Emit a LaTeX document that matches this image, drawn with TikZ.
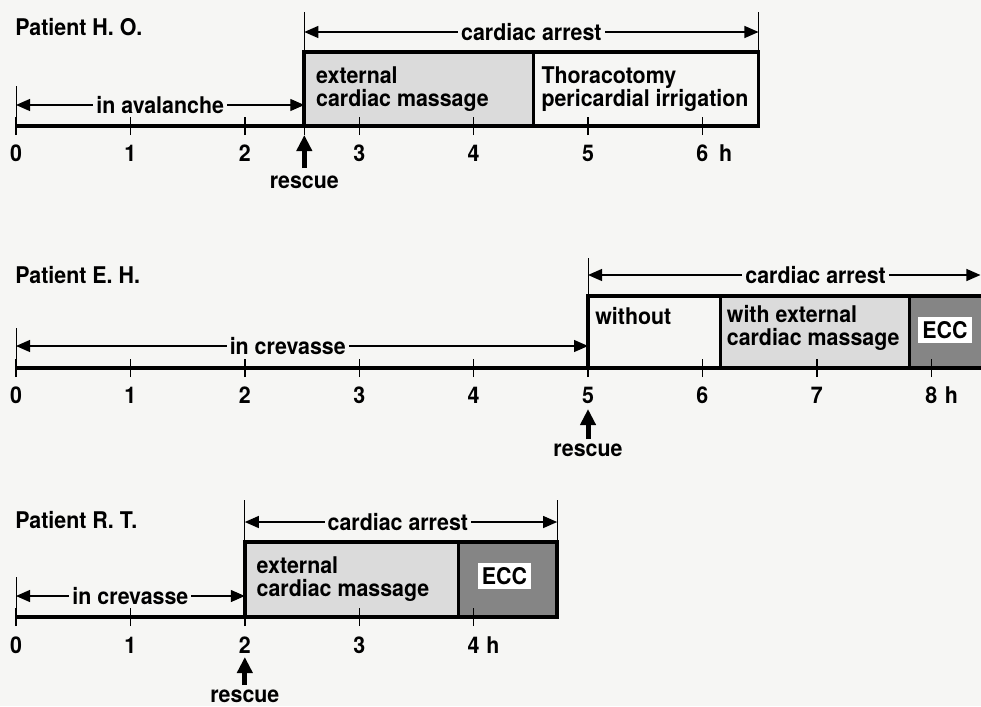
\documentclass[tikz,border=0pt]{standalone}
\usepackage{fontspec}
\setmainfont{TeX Gyre Heros}[FakeStretch=0.93]
\usetikzlibrary{arrows,arrows.meta,positioning}

\definecolor{paper}{rgb}{0.965,0.965,0.955}
\definecolor{stipple}{gray}{0.86}
\definecolor{dense}{gray}{0.52}

\begin{document}
\begin{tikzpicture}[x=57.2pt,y=0.5pt,font=\fontsize{11.5}{11.4}\selectfont\bfseries]
\tikzstyle{axisline}=[line width=2pt]
\tikzstyle{stagebox}=[line width=1.9pt]
\tikzstyle{divider}=[line width=1.4pt]
\tikzstyle{tickmark}=[line width=0.7pt]
\tikzstyle{bar}=[line width=0.5pt]
\tikzstyle{span}=[line width=0.6pt,{Triangle[length=7pt,width=6pt]}-{Triangle[length=7pt,width=6pt]}]
\tikzstyle{spanlabel}=[fill=paper,inner sep=1.5pt]
\tikzstyle{rescuearrow}=[line width=2.5pt,-{Triangle[length=8pt,width=7.5pt]}]
\tikzstyle{steplabel}=[align=left,anchor=west,inner sep=0pt]
\tikzstyle{patient}=[anchor=west,inner sep=0pt]
\tikzstyle{hour}=[inner sep=0pt]
\tikzstyle{ecc}=[fill=white,inner sep=2pt]

\path[use as bounding box,fill=paper] (-0.14,-706) rectangle (8.435,0);
\clip (-0.14,-706) rectangle (8.435,0);

% Patient H. O.
\begin{scope}[shift={(0,-126)}]
\node[patient] (hoName) at (-0.01,99) {Patient H. O.};
\fill[stipple] (2.52,0) rectangle (4.52,74);
\draw[axisline] (0,0) -- (6.49,0);
\draw[stagebox] (2.52,0) rectangle (6.49,74);
\draw[divider] (4.52,0) -- (4.52,74);
\foreach \h in {0,...,6} {
  \draw[tickmark] (\h,-9) -- (\h,9);
  \node[hour] (ho\h) at (\h,-27) {\h};
}
\node[hour,right=5pt of ho6] (hoUnit) {h};
\draw[bar] (0,9) -- (0,40);
\draw[tickmark] (2.52,-9) -- (2.52,0);
\draw[bar] (2.52,74) -- (2.52,114);
\draw[bar] (6.49,74) -- (6.49,114);
\coordinate (hoStart) at (0,21);
\coordinate (hoRescue) at (2.52,21);
\draw[span] (hoStart) -- node[spanlabel] (hoAval) {in avalanche} (hoRescue);
\coordinate (hoArrL) at (2.52,94);
\coordinate (hoArrR) at (6.49,94);
\draw[span] (hoArrL) -- node[spanlabel] (hoArrest) {cardiac arrest} (hoArrR);
\node[steplabel] (hoEcm) at (2.62,37) {external\\cardiac massage};
\node[steplabel] (hoThor) at (4.59,37) {Thoracotomy\\pericardial irrigation};
\coordinate (hoTail) at (2.52,-42);
\coordinate (hoTip) at (2.52,-9);
\draw[rescuearrow] (hoTail) -- (hoTip);
\node (hoSave) at (2.52,-56) {rescue};
\end{scope}

% Patient E. H.
\begin{scope}[shift={(0,-368)}]
\node[patient] (ehName) at (-0.01,93) {Patient E. H.};
\fill[stipple] (6.16,0) rectangle (7.81,72);
\fill[dense] (7.81,0) rectangle (8.6,72);
\draw[axisline] (0,0) -- (8.6,0);
\draw[stagebox] (8.6,72) -- (5,72) -- (5,0);
\draw[divider] (6.16,0) -- (6.16,72);
\draw[divider] (7.81,0) -- (7.81,72);
\foreach \h in {0,...,8} {
  \draw[tickmark] (\h,-9) -- (\h,9);
  \node[hour] (eh\h) at (\h,-27) {\h};
}
\node[hour,right=3.5pt of eh8] (ehUnit) {h};
\draw[bar] (0,9) -- (0,40);
\draw[bar] (5,72) -- (5,110);
\coordinate (ehStart) at (0,22);
\coordinate (ehRescue) at (5,22);
\draw[span] (ehStart) -- node[spanlabel,pos=0.475] (ehCrev) {in crevasse} (ehRescue);
\coordinate (ehArrL) at (5,93);
\coordinate (ehArrR) at (8.43,93);
\draw[span] (ehArrL) -- node[spanlabel,pos=0.58] (ehArrest) {cardiac arrest} (ehArrR);
\node[steplabel] (ehNone) at (5.06,52) {without};
\node[steplabel] (ehEcm) at (6.21,40) {with external\\cardiac massage};
\node[ecc] (ehEcc) at (8.12,38) {ECC};
\coordinate (ehTail) at (5,-71);
\coordinate (ehTip) at (5,-41);
\draw[rescuearrow] (ehTail) -- (ehTip);
\node (ehSave) at (5,-82) {rescue};
\end{scope}

% Patient R. T.
\begin{scope}[shift={(0,-617)}]
\node[patient] (rtName) at (-0.01,97) {Patient R. T.};
\fill[stipple] (2,0) rectangle (3.87,75);
\fill[dense] (3.87,0) rectangle (4.73,75);
\draw[axisline] (0,0) -- (4.73,0);
\draw[stagebox] (2,0) rectangle (4.73,75);
\draw[divider] (3.87,0) -- (3.87,75);
\foreach \h in {0,...,4} {
  \draw[tickmark] (\h,-9) -- (\h,9);
  \node[hour] (rt\h) at (\h,-28) {\h};
}
\node[hour,right=3pt of rt4] (rtUnit) {h};
\draw[bar] (0,9) -- (0,40);
\draw[bar] (2,75) -- (2,117);
\draw[bar] (4.73,75) -- (4.73,117);
\coordinate (rtStart) at (0,21);
\coordinate (rtRescue) at (2,21);
\draw[span] (rtStart) -- node[spanlabel] (rtCrev) {in crevasse} (rtRescue);
\coordinate (rtArrL) at (2,95);
\coordinate (rtArrR) at (4.73,95);
\draw[span] (rtArrL) -- node[spanlabel,pos=0.49] (rtArrest) {cardiac arrest} (rtArrR);
\node[steplabel] (rtEcm) at (2.1,38) {external\\cardiac massage};
\node[ecc] (rtEcc) at (4.27,41) {ECC};
\coordinate (rtTail) at (2,-68);
\coordinate (rtTip) at (2,-40);
\draw[rescuearrow] (rtTail) -- (rtTip);
\node[inner sep=1pt] (rtSave) at (2,-79) {rescue};
\end{scope}
\end{tikzpicture}
\end{document}
